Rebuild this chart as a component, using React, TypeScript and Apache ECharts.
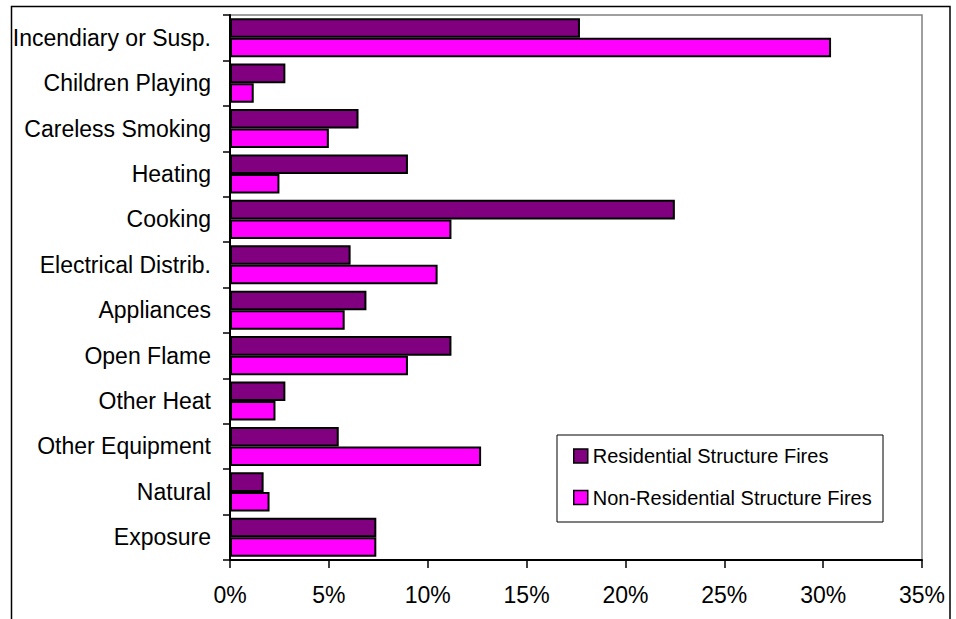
import React, { useEffect, useRef } from "react";
import * as echarts from "echarts";

// Fire cause categories, listed top to bottom
const categories = [
  "Incendiary or Susp.",
  "Children Playing",
  "Careless Smoking",
  "Heating",
  "Cooking",
  "Electrical Distrib.",
  "Appliances",
  "Open Flame",
  "Other Heat",
  "Other Equipment",
  "Natural",
  "Exposure",
];

// Share of fires per cause, in percent
const residential = [17.7, 2.8, 6.5, 9.0, 22.5, 6.1, 6.9, 11.2, 2.8, 5.5, 1.7, 7.4];
const nonResidential = [30.4, 1.2, 5.0, 2.5, 11.2, 10.5, 5.8, 9.0, 2.3, 12.7, 2.0, 7.4];

const seriesNames = ["Residential Structure Fires", "Non-Residential Structure Fires"];
const seriesColors = ["#800080", "#FF00FF"];

const xMin = 0;
const xMax = 35;
const xStep = 5;

const FONT = "'Liberation Sans', Arial, sans-serif";

export default function App() {
  const ref = useRef<HTMLDivElement>(null);

  useEffect(() => {
    if (!ref.current) return;
    const chart = echarts.init(ref.current, undefined, { renderer: "svg" });
    const values = [residential, nonResidential];

    chart.setOption({
      animation: false,
      backgroundColor: "#ffffff",
      textStyle: { fontFamily: FONT, color: "#000" },
      grid: {
        left: 230,
        right: 34,
        top: 15,
        bottom: 59,
        show: true,
        borderColor: "#808080",
        borderWidth: 1.5,
        backgroundColor: "transparent",
      },
      graphic: [
        {
          type: "rect",
          z: 0,
          shape: { x: 11.5, y: 6.5, width: 938.5, height: 700 },
          style: { fill: "none", stroke: "#000", lineWidth: 1.5 },
          silent: true,
        },
        {
          type: "rect",
          z: 1,
          shape: { x: 557, y: 435, width: 326, height: 87 },
          style: { fill: "#fff", stroke: "#000", lineWidth: 1 },
          silent: true,
        },
      ],
      legend: {
        orient: "vertical",
        left: 573,
        top: 446,
        padding: 0,
        itemWidth: 14,
        itemHeight: 14,
        itemGap: 21.5,
        icon: "rect",
        z: 5,
        itemStyle: { borderColor: "#000", borderWidth: 1.5 },
        textStyle: { fontFamily: FONT, fontSize: 20, color: "#000" },
        data: seriesNames,
      },
      xAxis: {
        type: "value",
        min: xMin,
        max: xMax,
        interval: xStep,
        axisLine: { show: true, lineStyle: { color: "#000", width: 2 } },
        axisTick: { show: true, length: 8, lineStyle: { color: "#000", width: 1.5 } },
        splitLine: { show: false },
        axisLabel: {
          formatter: "{value}%",
          fontFamily: FONT,
          fontSize: 23,
          color: "#000",
          margin: 23,
        },
      },
      yAxis: {
        type: "category",
        data: categories,
        inverse: true,
        axisLine: { show: true, lineStyle: { color: "#000", width: 2 } },
        axisTick: { show: true, length: 7, lineStyle: { color: "#000", width: 1.5 } },
        splitLine: { show: false },
        axisLabel: {
          fontFamily: FONT,
          fontSize: 23,
          color: "#000",
          margin: 19,
        },
      },
      series: seriesNames.map((name, i) => ({
        name,
        type: "bar",
        data: values[i],
        barGap: "0%",
        barCategoryGap: "14%",
        itemStyle: { color: seriesColors[i], borderColor: "#000", borderWidth: 2 },
      })),
    });

    return () => chart.dispose();
  }, []);

  return (
    <div
      ref={ref}
      style={{ position: "absolute", left: 0, top: 0, width: 956, height: 619 }}
    />
  );
}
